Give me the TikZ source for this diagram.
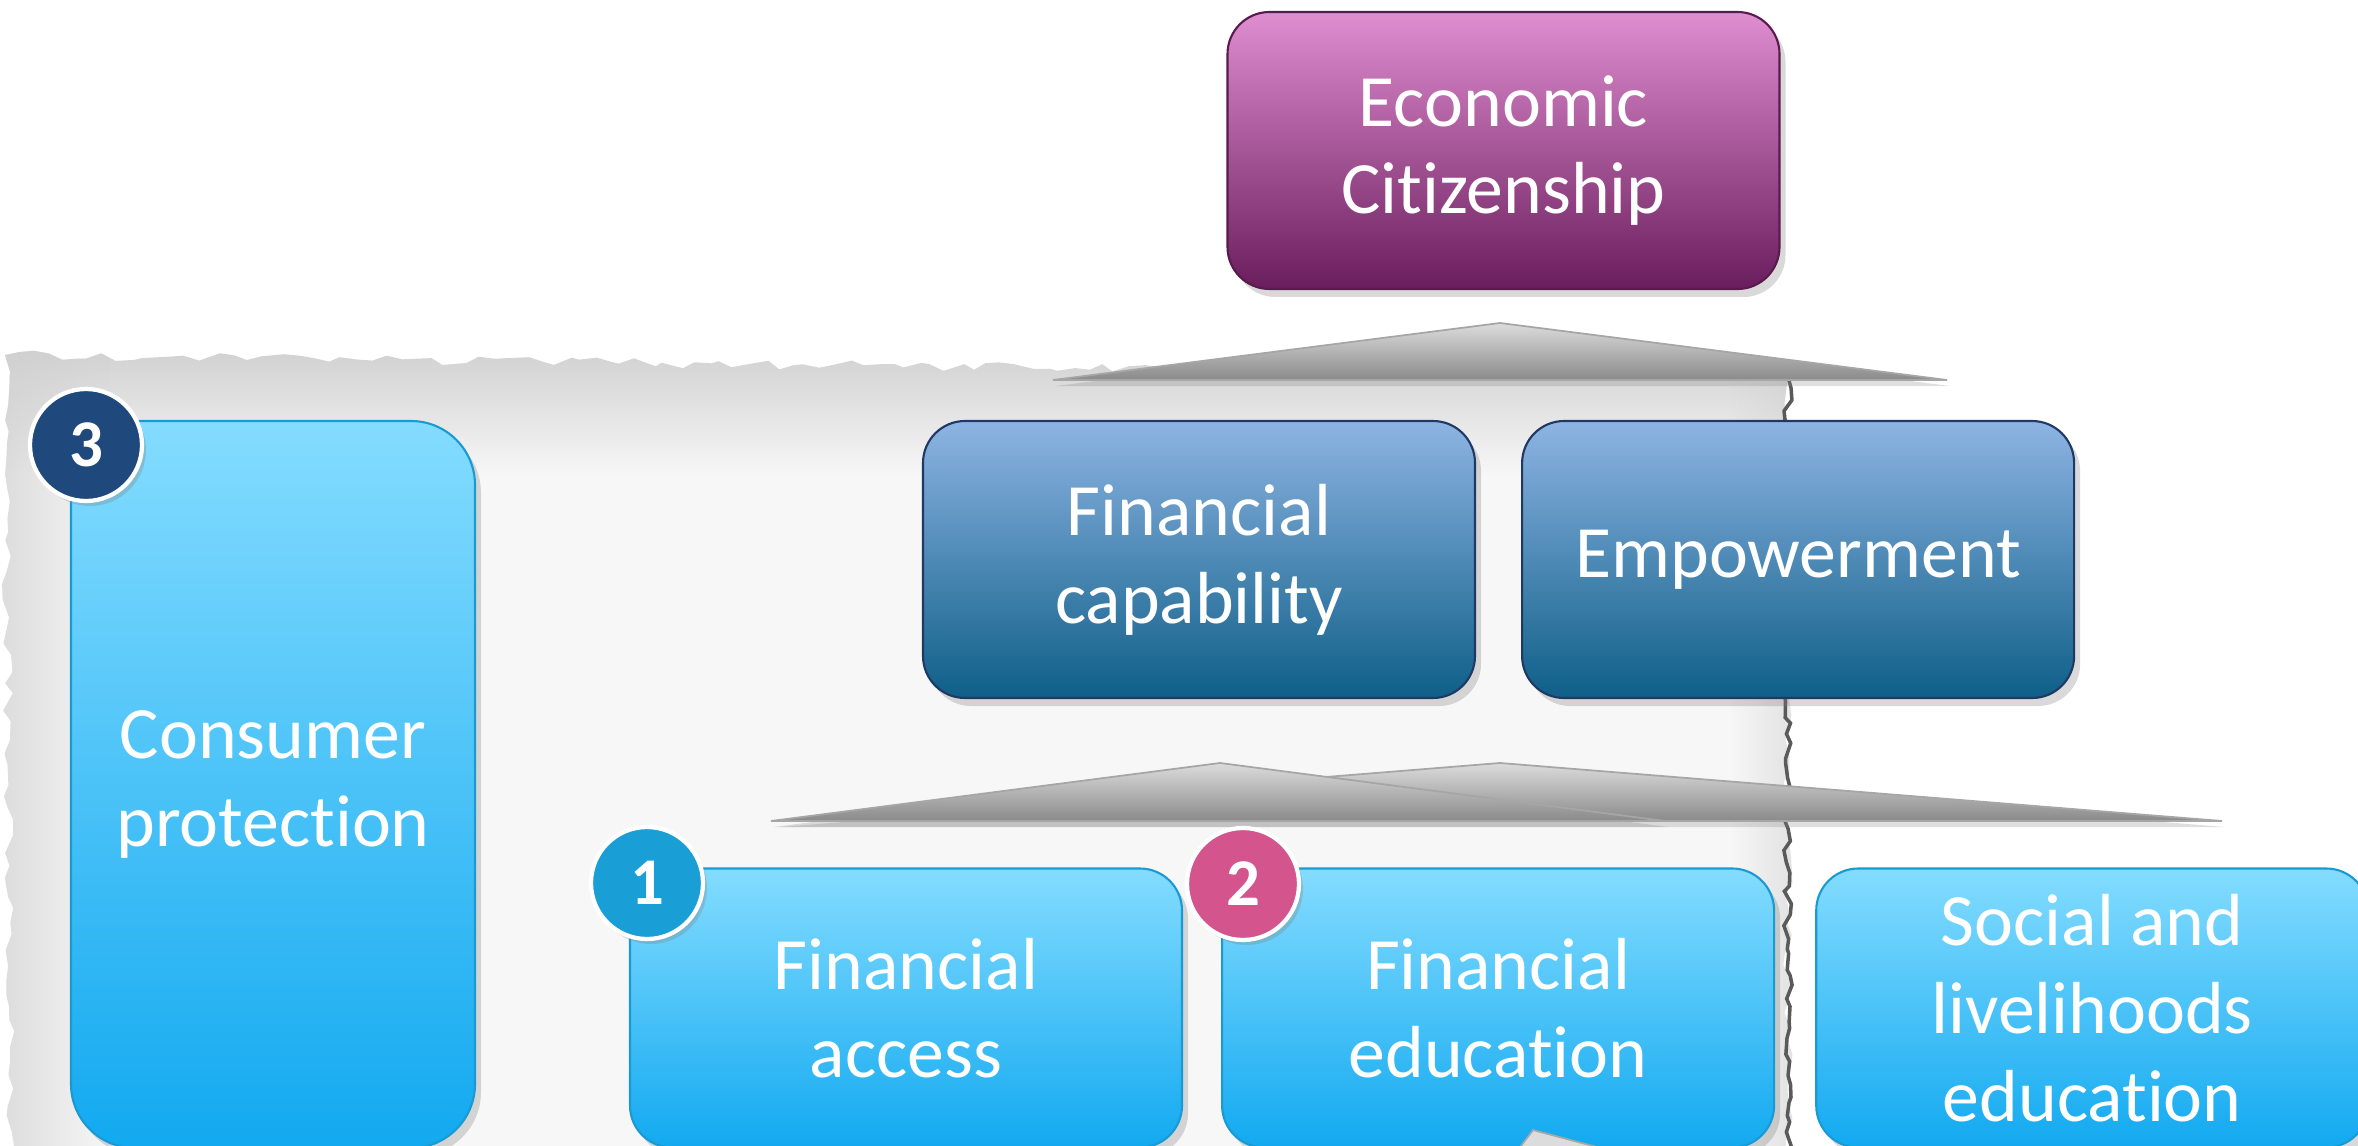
\documentclass[tikz,border=0pt]{standalone}
\usepackage{fontspec}
\setmainfont{Carlito}[Ligatures=NoCommon]
\usetikzlibrary{positioning,shadows,fadings,decorations.pathmorphing}
\definecolor{citizentop}{HTML}{DF8ED0}
\definecolor{citizenbot}{HTML}{6A1D5D}
\definecolor{citizenline}{HTML}{5A1A4E}
\definecolor{captop}{HTML}{8EB4E3}
\definecolor{capbot}{HTML}{0E5F88}
\definecolor{capline}{HTML}{1F3864}
\definecolor{pillartop}{HTML}{84DCFF}
\definecolor{pillarbot}{HTML}{12A9F0}
\definecolor{pillarline}{HTML}{1A9AD3}
\definecolor{roofline}{HTML}{A6A6A6}
\definecolor{rooftop}{HTML}{DCDCDC}
\definecolor{roofbot}{HTML}{8A8A8A}
\definecolor{paperbase}{HTML}{F7F7F7}
\definecolor{paperedge}{HTML}{D0D0D0}
\definecolor{tear}{HTML}{5A5A5A}
\definecolor{accessblue}{HTML}{199FD5}
\definecolor{edupink}{HTML}{D4548D}
\definecolor{protectnavy}{HTML}{1F497D}
\tikzfading[name=fade down, top color=transparent!0, bottom color=transparent!100]
\tikzfading[name=fade right, left color=transparent!0, right color=transparent!100]
\tikzfading[name=fade left, left color=transparent!100, right color=transparent!0]

\begin{document}
\begin{tikzpicture}[
    font=\fontsize{21}{25}\selectfont,
    box/.style={draw, line width=0.6pt, rounded corners=4.2mm, minimum width=5.52cm,
      minimum height=2.77cm, inner sep=0pt, align=center, text=white,
      drop shadow={opacity=0.3, shadow xshift=0.6mm, shadow yshift=-0.8mm}},
    citizen/.style={box, draw=citizenline, top color=citizentop, bottom color=citizenbot},
    capab/.style={box, draw=capline, top color=captop, bottom color=capbot},
    pillar/.style={box, draw=pillarline, top color=pillartop, bottom color=pillarbot, minimum height=2.79cm},
    badge/.style={circle, draw=white, line width=1.2pt, minimum size=1.12cm, inner sep=0pt,
      text=white, font=\fontsize{19}{19}\selectfont\bfseries,
      drop shadow={opacity=0.3, shadow xshift=0.4mm, shadow yshift=-0.5mm}},
    roof/.style={draw=roofline, line width=0.5pt, top color=rooftop, bottom color=roofbot,
      drop shadow={opacity=0.25, shadow xshift=0.3mm, shadow yshift=-0.6mm}},
    torn/.style={decorate, decoration={random steps, segment length=4pt, amplitude=1.4pt}}
  ]
  \clip (0,0) rectangle (23.58,11.45);

  \pgfmathsetseed{7}
  \begin{scope}
    \clip[torn] (0.12,-0.3) -- (0.05,7.9) -- (17.88,7.68) -- (17.88,-0.3) -- cycle;
    \fill[paperbase] (-0.5,-0.5) rectangle (18.5,8.5);
    \fill[paperedge, path fading=fade down] (-0.5,6.7) rectangle (18.5,8.0);
    \fill[paperedge, path fading=fade right] (-0.5,-0.5) rectangle (1.1,8.5);
    \fill[paperedge, path fading=fade left] (17.3,-0.5) rectangle (18.5,8.5);
  \end{scope}
  \draw[tear, line width=1pt, decorate, decoration={random steps, segment length=3pt, amplitude=1.2pt}]
    (17.88,7.68) -- (17.88,-0.3);

  \path[roof] (10.53,7.65) -- (15.00,8.22) -- (19.47,7.65) -- cycle;
  \path[roof] (7.78,3.24) -- (15.00,3.82) -- (22.22,3.24) -- cycle;
  \path[roof] (7.71,3.24) -- (12.20,3.82) -- (16.65,3.24) -- cycle;

  \node[citizen] (econ) at (15.035,9.945) {Economic\\Citizenship};
  \node[capab] (fincap) at (11.99,5.855) {Financial\\capability};
  \node[capab, right=0.45cm of fincap] (empower) {Empowerment};

  \node[pillar, minimum width=4.04cm, minimum height=7.27cm, rounded corners=6.4mm] (consumer)
    at (2.73,3.605) {Consumer\\protection};
  \node[pillar] (access) at (9.06,1.37) {Financial\\access};
  \node[pillar, right=0.38cm of access] (edu) {Financial\\education};
  \node[pillar, right=0.40cm of edu] (social) {Social and\\livelihoods\\education};

  \node[badge, fill=protectnavy] (b3) at (0.86,7.00) {3};
  \node[badge, fill=accessblue] (b1) at (6.47,2.62) {1};
  \node[badge, fill=edupink] (b2) at (12.43,2.61) {2};

  \filldraw[fill=rooftop, draw=roofline, line width=0.5pt] (15.18,-0.05) -- (15.33,0.15) -- (16.08,-0.05) -- cycle;
\end{tikzpicture}
\end{document}
